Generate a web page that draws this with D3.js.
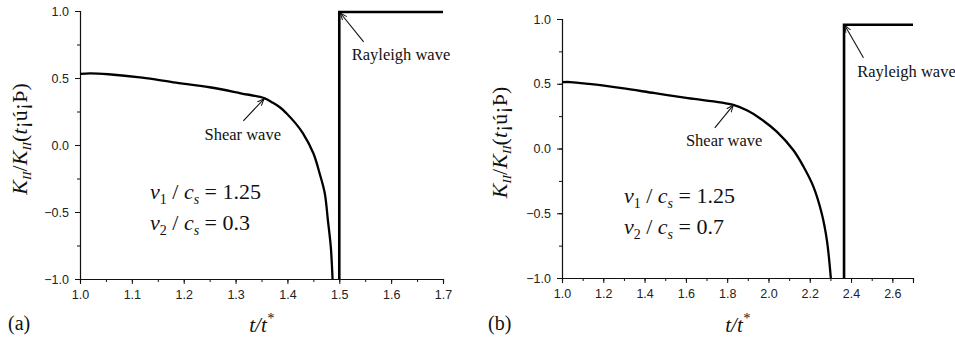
<!DOCTYPE html>
<html>
<head>
<meta charset="utf-8">
<script src="https://cdn.jsdelivr.net/npm/d3@7"></script>
<style>
  body { margin: 0; background: #fff; }
  svg { display: block; }
</style>
</head>
<body>
<svg id="chart" width="955" height="338"></svg>
<script>
// panel (a): v1/cs = 1.25, v2/cs = 0.3
const timeA = [1.0, 1.02, 1.055, 1.12, 1.18, 1.25, 1.31, 1.355, 1.372, 1.386, 1.398, 1.415, 1.43, 1.45, 1.462, 1.472, 1.478, 1.4836, 1.487];
const kA    = [0.530, 0.535, 0.528, 0.502, 0.468, 0.431, 0.386, 0.350, 0.315, 0.280, 0.237, 0.165, 0.087, -0.062, -0.211, -0.360, -0.560, -0.759, -1.0];
const rayleighTimeA = [1.5, 1.5, 1.7];
const rayleighKA    = [-1.0, 0.993, 0.993];

// panel (b): v1/cs = 1.25, v2/cs = 0.7
const timeB = [1.0, 1.04, 1.13, 1.29, 1.45, 1.61, 1.83, 1.90, 1.96, 2.04, 2.12, 2.17, 2.218, 2.258, 2.283, 2.302];
const kB    = [0.512, 0.513, 0.499, 0.466, 0.427, 0.389, 0.337, 0.291, 0.232, 0.130, -0.012, -0.141, -0.296, -0.502, -0.709, -1.0];
const rayleighTimeB = [2.366, 2.366, 2.7];
const rayleighKB    = [-1.0, 0.956, 0.956];

const yTicks = [-1.0, -0.5, 0.0, 0.5, 1.0];
const xTicksA = [1.0, 1.1, 1.2, 1.3, 1.4, 1.5, 1.6, 1.7];
const xTicksB = [1.0, 1.2, 1.4, 1.6, 1.8, 2.0, 2.2, 2.4, 2.6];

const SANS = "'Liberation Sans', Arial, sans-serif";
const SERIF = "'Liberation Serif', 'Times New Roman', serif";

const svg = d3.select('#chart');

svg.append('defs').append('marker')
  .attr('id', 'arrow')
  .attr('viewBox', '0 0 10 10')
  .attr('refX', 10)
  .attr('refY', 5)
  .attr('markerWidth', 7)
  .attr('markerHeight', 7)
  .attr('markerUnits', 'userSpaceOnUse')
  .attr('orient', 'auto')
  .append('path')
  .attr('d', 'M 0 1 L 10 5 L 0 9')
  .attr('fill', 'none')
  .attr('stroke', '#111')
  .attr('stroke-width', 1.4);

function drawPanel(p) {
  const x = d3.scaleLinear().domain(p.xDomain).range([p.left, p.right]);
  const y = d3.scaleLinear().domain([-1, 1]).range([p.bottom, p.top]);
  const g = svg.append('g');

  // minor ticks
  const xAxisMinor = d3.axisBottom(x).tickValues(p.xMinor).tickSize(3).tickFormat('');
  const yAxisMinor = d3.axisLeft(y).tickValues(d3.range(-1, 1.01, 0.25)).tickSize(3).tickFormat('');
  g.append('g').attr('transform', 'translate(0,' + p.bottom + ')').call(xAxisMinor);
  g.append('g').attr('transform', 'translate(' + p.left + ',0)').call(yAxisMinor);

  const xAxis = d3.axisBottom(x).tickValues(p.xTicks).tickSize(5).tickPadding(6).tickFormat(d3.format('.1f'));
  const yAxis = d3.axisLeft(y).tickValues(yTicks).tickSize(5).tickPadding(6)
    .tickFormat(d => d3.format('.1f')(d).replace('-', '\u2212'));
  g.append('g').attr('transform', 'translate(0,' + p.bottom + ')').call(xAxis);
  g.append('g').attr('transform', 'translate(' + p.left + ',0)').call(yAxis);
  g.selectAll('g').attr('font-family', SANS);
  g.selectAll('.domain').attr('stroke', '#111').attr('stroke-width', 1.1);
  g.selectAll('.tick line').attr('stroke', '#111');
  g.selectAll('.tick text')
    .style('font-family', SANS)
    .attr('font-size', 12.5)
    .attr('fill', '#222');

  const line = d3.line().x(d => x(d[0])).y(d => y(d[1])).curve(d3.curveCatmullRom.alpha(0.5));
  g.append('path')
    .datum(d3.zip(p.time, p.k))
    .attr('d', line)
    .attr('fill', 'none')
    .attr('stroke', '#000')
    .attr('stroke-width', 2.3);

  g.append('path')
    .datum(d3.zip(p.rTime, p.rK))
    .attr('d', d3.line().x(d => x(d[0])).y(d => y(d[1])))
    .attr('fill', 'none')
    .attr('stroke', '#000')
    .attr('stroke-width', 2.6);

  // annotations
  g.append('line')
    .attr('x1', x(p.shearFrom[0])).attr('y1', y(p.shearFrom[1]))
    .attr('x2', x(p.shearAt[0])).attr('y2', y(p.shearAt[1]))
    .attr('stroke', '#111').attr('stroke-width', 1.1)
    .attr('marker-end', 'url(#arrow)');
  g.append('text')
    .style('font-family', SERIF).attr('fill', '#111')
    .attr('x', x(p.shearText[0])).attr('y', y(p.shearText[1]))
    .attr('font-size', 16.5)
    .text('Shear wave');

  g.append('line')
    .attr('x1', x(p.rayFrom[0])).attr('y1', y(p.rayFrom[1]))
    .attr('x2', x(p.rayAt[0])).attr('y2', y(p.rayAt[1]))
    .attr('stroke', '#111').attr('stroke-width', 1.1)
    .attr('marker-end', 'url(#arrow)');
  g.append('text')
    .style('font-family', SERIF).attr('fill', '#111')
    .attr('x', x(p.rayText[0])).attr('y', y(p.rayText[1]))
    .attr('font-size', 16.5)
    .text('Rayleigh wave');

  // parameter labels
  p.params.forEach((pr, i) => {
    const t = g.append('text')
      .style('font-family', SERIF).attr('fill', '#111')
      .attr('x', x(p.paramPos[0])).attr('y', y(p.paramPos[1]) + i * 31)
      .attr('font-size', 22);
    t.append('tspan').attr('font-style', 'italic').text('v');
    t.append('tspan').attr('font-size', 14).attr('dy', 5).text(pr[0]);
    t.append('tspan').attr('dy', -5).text(' / ');
    t.append('tspan').attr('font-style', 'italic').text('c');
    t.append('tspan').attr('font-size', 14).attr('font-style', 'italic').attr('dy', 5).text('s');
    t.append('tspan').attr('dy', -5).text(' = ' + pr[1]);
  });

  // y label
  const yl = g.append('text')
    .style('font-family', SERIF).attr('fill', '#111')
    .attr('transform', 'translate(' + p.yLabelX + ',' + ((p.top + p.bottom) / 2 - 6) + ') rotate(-90)')
    .attr('text-anchor', 'middle')
    .attr('font-size', 22);
  yl.append('tspan').attr('font-style', 'italic').text('K');
  yl.append('tspan').attr('font-style', 'italic').attr('font-size', 13).attr('dy', 4).text('II');
  yl.append('tspan').attr('dy', -4).text('/');
  yl.append('tspan').attr('font-style', 'italic').text('K');
  yl.append('tspan').attr('font-style', 'italic').attr('font-size', 13).attr('dy', 4).text('II');
  yl.append('tspan').attr('dy', -4).text('(');
  yl.append('tspan').attr('font-style', 'italic').text('t');
  yl.append('tspan').text('\u00a1\u00fa\u00a1\u00de)');

  // x label
  const xl = g.append('text')
    .style('font-family', SERIF).attr('fill', '#111')
    .attr('x', (p.left + p.right) / 2).attr('y', 332)
    .attr('text-anchor', 'middle')
    .attr('font-size', 21)
    .attr('font-style', 'italic');
  xl.append('tspan').text('t/t');
  xl.append('tspan').attr('font-size', 14).attr('dy', -9).text('*');

  g.append('text')
    .style('font-family', SERIF).attr('fill', '#111')
    .attr('x', p.tagX).attr('y', 330)
    .attr('font-size', 20)
    .text(p.tag);
}

drawPanel({
  xDomain: [1.0, 1.7], left: 80, right: 443, top: 11, bottom: 279,
  xTicks: xTicksA, xMinor: d3.range(1.0, 1.701, 0.05),
  time: timeA, k: kA, rTime: rayleighTimeA, rK: rayleighKA,
  shearFrom: [1.315, 0.18], shearAt: [1.355, 0.345], shearText: [1.24, 0.04],
  rayFrom: [1.547, 0.77], rayAt: [1.502, 0.985], rayText: [1.524, 0.635],
  params: [['1', '1.25'], ['2', '0.3']], paramPos: [1.135, -0.4],
  yLabelX: 27, tag: '(a)', tagX: 8
});

drawPanel({
  xDomain: [1.0, 2.7], left: 562, right: 913, top: 19, bottom: 278,
  xTicks: xTicksB, xMinor: d3.range(1.0, 2.701, 0.1),
  time: timeB, k: kB, rTime: rayleighTimeB, rK: rayleighKB,
  shearFrom: [1.74, 0.16], shearAt: [1.83, 0.335], shearText: [1.6, 0.02],
  rayFrom: [2.46, 0.7], rayAt: [2.37, 0.95], rayText: [2.43, 0.55],
  params: [['1', '1.25'], ['2', '0.7']], paramPos: [1.3, -0.42],
  yLabelX: 507, tag: '(b)', tagX: 488
});
</script>
</body>
</html>
